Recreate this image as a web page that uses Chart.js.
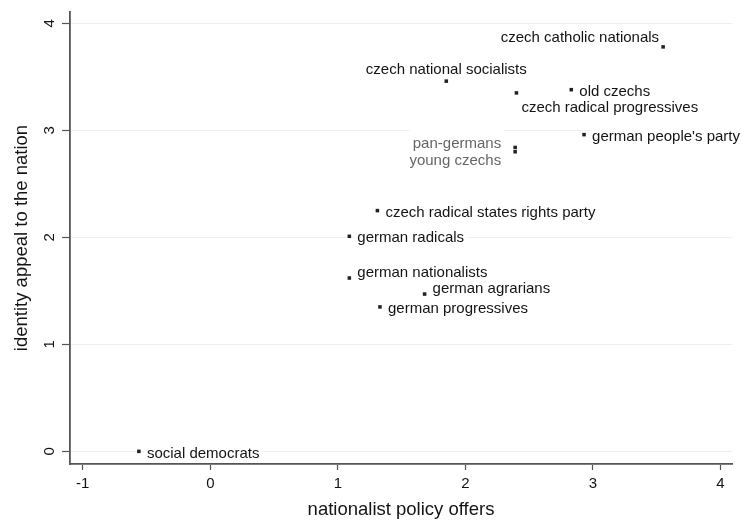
<!DOCTYPE html>
<html>
<head>
<meta charset="utf-8">
<script src="https://cdn.jsdelivr.net/npm/chart.js@4.4.1/dist/chart.umd.min.js"></script>
<style>
    body { margin: 0; background: #fff; }
    #wrap { width: 750px; height: 529px; position: relative; }
</style>
</head>
<body>
<div id="wrap"><canvas id="partyChart"></canvas></div>
<script>
// Parties and their scores
const parties = [
    'social democrats', 'czech catholic nationals', 'czech national socialists',
    'czech radical progressives', 'old czechs', "german people's party",
    'pan-germans', 'young czechs', 'czech radical states rights party',
    'german radicals', 'german nationalists', 'german agrarians', 'german progressives'
];
const policyOffers = [-0.56, 3.55, 1.85, 2.40, 2.83, 2.93, 2.39, 2.39, 1.31, 1.09, 1.09, 1.68, 1.33];
const identityAppeal = [0.00, 3.78, 3.46, 3.35, 3.38, 2.96, 2.84, 2.80, 2.25, 2.01, 1.62, 1.47, 1.35];

// label clock positions (like stata mlabvposition)
const labelClock = [3, 11, 12, 5, 3, 3, 10, 8, 3, 3, 2, 2, 3];

const xTicks = [-1, 0, 1, 2, 3, 4];
const yTicks = [0, 1, 2, 3, 4];

const FONT = '"Liberation Sans", Arial, Helvetica, sans-serif';
const AXIS_COLOR = '#555';
const TEXT_COLOR = '#141414';

const clockOffsets = {
    12: { align: 'center', dx: 0, dy: -11 },
    11: { align: 'right', dx: -4, dy: -9 },
    10: { align: 'right', dx: -14, dy: -4 },
    8:  { align: 'right', dx: -14, dy: 9 },
    2:  { align: 'left', dx: 8, dy: -5 },
    3:  { align: 'left', dx: 8, dy: 2 },
    5:  { align: 'left', dx: 5, dy: 15 }
};

const labelPlugin = {
    id: 'markerLabels',
    beforeDatasetsDraw(chart) {
        const ctx = chart.ctx;
        const meta = chart.getDatasetMeta(0);
        ctx.save();
        ctx.font = '15px ' + FONT;
        ctx.textBaseline = 'middle';
        const items = meta.data.map((pt, i) => {
            const o = clockOffsets[labelClock[i]];
            const x = pt.x + o.dx;
            const y = pt.y + o.dy;
            const w = ctx.measureText(parties[i]).width;
            let left = x;
            if (o.align === 'right') left = x - w;
            if (o.align === 'center') left = x - w / 2;
            const grey = labelClock[i] === 10 || labelClock[i] === 8;
            return { x, y, w, left, grey, align: o.align, text: parties[i] };
        });
        // white boxes first so they hide the grid lines only
        ctx.fillStyle = '#fff';
        items.forEach(it => {
            ctx.fillRect(it.left - 3, it.y - (it.grey ? 14 : 8), it.w + 6, it.grey ? 22 : 16);
        });
        items.forEach(it => {
            ctx.fillStyle = it.grey ? '#666' : TEXT_COLOR;
            ctx.textAlign = it.align;
            ctx.fillText(it.text, it.x, it.y);
        });
        ctx.restore();
    },
    afterDraw(chart) {
        // y tick labels are rotated in the original
        const ctx = chart.ctx;
        const ys = chart.scales.y;
        ctx.save();
        ctx.font = '15px ' + FONT;
        ctx.fillStyle = TEXT_COLOR;
        ctx.textAlign = 'center';
        ctx.textBaseline = 'middle';
        yTicks.forEach(v => {
            ctx.save();
            ctx.translate(50, ys.getPixelForValue(v));
            ctx.rotate(-Math.PI / 2);
            ctx.fillText(String(v), 0, 0);
            ctx.restore();
        });
        ctx.restore();
    }
};

new Chart(document.getElementById('partyChart'), {
    type: 'scatter',
    data: {
        datasets: [{
            data: policyOffers.map((x, i) => ({ x: x, y: identityAppeal[i] })),
            pointStyle: 'rect',
            pointRadius: 2.5,
            pointHoverRadius: 2.5,
            backgroundColor: '#222',
            borderColor: '#222',
            borderWidth: 0
        }]
    },
    options: {
        responsive: true,
        maintainAspectRatio: false,
        animation: false,
        layout: { padding: { left: 0, right: 18, top: 12, bottom: 0 } },
        plugins: {
            legend: { display: false },
            tooltip: { enabled: false }
        },
        scales: {
            x: {
                type: 'linear',
                min: -1.1,
                max: 4.09,
                afterBuildTicks: s => { s.ticks = xTicks.map(v => ({ value: v })); },
                afterFit: s => { s.height = 65; },
                grid: {
                    drawOnChartArea: false,
                    drawTicks: true,
                    tickLength: 6,
                    tickColor: AXIS_COLOR,
                    tickWidth: 1.2
                },
                border: { color: AXIS_COLOR, width: 1.8 },
                ticks: {
                    color: TEXT_COLOR,
                    padding: 5,
                    maxRotation: 0,
                    font: { family: FONT, size: 15 }
                },
                title: {
                    display: true,
                    text: 'nationalist policy offers',
                    color: TEXT_COLOR,
                    padding: { top: 0, bottom: 8 },
                    font: { family: FONT, size: 18.5 }
                }
            },
            y: {
                type: 'linear',
                min: -0.118,
                max: 4.106,
                afterBuildTicks: s => { s.ticks = yTicks.map(v => ({ value: v })); },
                afterFit: s => { s.width = 70; },
                grid: {
                    color: '#efefef',
                    lineWidth: 1,
                    drawTicks: true,
                    tickLength: 8,
                    tickColor: AXIS_COLOR,
                    tickWidth: 1.2
                },
                border: { color: AXIS_COLOR, width: 1.8 },
                ticks: { display: false },
                title: {
                    display: true,
                    text: 'identity appeal to the nation',
                    color: TEXT_COLOR,
                    padding: { top: 11, bottom: 0 },
                    font: { family: FONT, size: 18.5 }
                }
            }
        }
    },
    plugins: [labelPlugin]
});
</script>
</body>
</html>
